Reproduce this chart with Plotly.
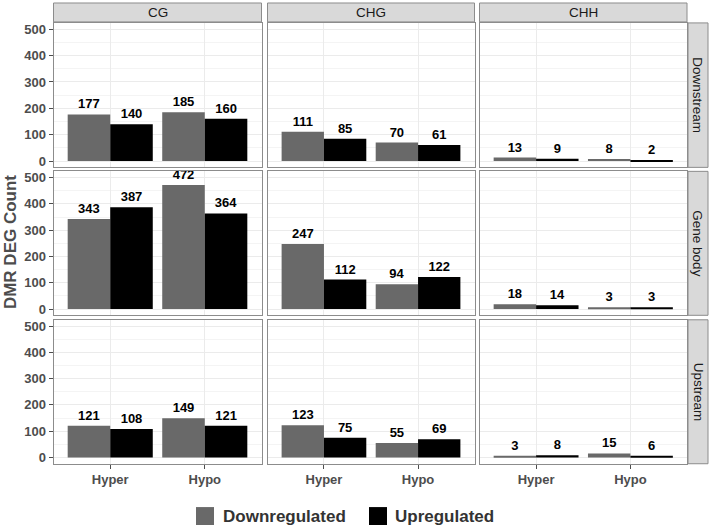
import plotly.graph_objects as go

W, H = 709, 528

contexts = ["CG", "CHG", "CHH"]
regions = ["Downstream", "Gene body", "Upstream"]
directions = ["Hyper", "Hypo"]
groups = ["Downregulated", "Upregulated"]
group_colors = ["#696969", "#000000"]

# values per region/context: [Hyper, Hypo]
down_downstream = {"CG": [177, 185], "CHG": [111, 70], "CHH": [13, 8]}
up_downstream = {"CG": [140, 160], "CHG": [85, 61], "CHH": [9, 2]}
down_genebody = {"CG": [343, 472], "CHG": [247, 94], "CHH": [18, 3]}
up_genebody = {"CG": [387, 364], "CHG": [112, 122], "CHH": [14, 3]}
down_upstream = {"CG": [121, 149], "CHG": [123, 55], "CHH": [3, 15]}
up_upstream = {"CG": [108, 121], "CHG": [75, 69], "CHH": [8, 6]}

data = {
    "Downstream": (down_downstream, up_downstream),
    "Gene body": (down_genebody, up_genebody),
    "Upstream": (down_upstream, up_upstream),
}

y_ticks = [0, 100, 200, 300, 400, 500]

# layout geometry in pixels
col_px = [(53.5, 261.5), (267.5, 474.5), (479.5, 687.0)]
row_px = [(22.0, 167.0), (171.0, 315.5), (320.0, 464.5)]
strip_top = (2.0, 21.0)
strip_right = (688.0, 708.0)


def px_x(v):
    return v / W


def px_y(v):
    return 1 - v / H


fig = go.Figure()
layout = {}
idx = 0
for r, reg in enumerate(regions):
    for c, ctx in enumerate(contexts):
        idx += 1
        xa = "x" if idx == 1 else f"x{idx}"
        ya = "y" if idx == 1 else f"y{idx}"
        downs, ups = data[reg]
        for g, (grp, vals) in enumerate(zip(groups, [downs[ctx], ups[ctx]])):
            fig.add_trace(go.Bar(
                x=directions, y=vals, name=grp,
                marker=dict(color=group_colors[g], line=dict(width=0)),
                text=vals, texttemplate="%{text}", textposition="outside",
                textfont=dict(family="Liberation Sans", size=13, color="black", weight="bold"),
                constraintext="none", cliponaxis=False,
                offsetgroup=str(g), showlegend=False,
                xaxis=xa, yaxis=ya,
            ))
        xkey = "xaxis" if idx == 1 else f"xaxis{idx}"
        ykey = "yaxis" if idx == 1 else f"yaxis{idx}"
        layout[xkey] = dict(
            domain=[px_x(col_px[c][0]), px_x(col_px[c][1])],
            anchor=ya, type="category", range=[-0.6, 1.6],
            showgrid=True, gridcolor="#EBEBEB", gridwidth=1,
            showline=True, linecolor="#8C8C8C", linewidth=1, mirror=True,
            showticklabels=(r == 2), ticks="outside" if r == 2 else "",
            ticklen=4, tickcolor="#4D4D4D",
            tickfont=dict(family="Liberation Sans", size=13, color="#4D4D4D", weight="bold"),
            zeroline=False, fixedrange=True,
        )
        layout[ykey] = dict(
            domain=[px_y(row_px[r][1]), px_y(row_px[r][0])],
            anchor=xa, range=[-24, 524],
            tickvals=y_ticks,
            showgrid=True, gridcolor="#EBEBEB", gridwidth=1,
            minor=dict(dtick=50, tick0=0, showgrid=True, gridcolor="#F4F4F4", gridwidth=0.6),
            showline=True, linecolor="#8C8C8C", linewidth=1, mirror=True,
            showticklabels=(c == 0), ticks="outside" if c == 0 else "",
            ticklen=4, tickcolor="#4D4D4D",
            tickfont=dict(family="Liberation Sans", size=13, color="#4D4D4D", weight="bold"),
            zeroline=False, fixedrange=True,
        )

shapes = []
annotations = []
# top strips
for c, ctx in enumerate(contexts):
    shapes.append(dict(type="rect", xref="paper", yref="paper",
                       x0=px_x(col_px[c][0]), x1=px_x(col_px[c][1]),
                       y0=px_y(strip_top[1]), y1=px_y(strip_top[0]),
                       fillcolor="#D9D9D9", line=dict(color="#8C8C8C", width=1), layer="below"))
    annotations.append(dict(xref="paper", yref="paper",
                            x=px_x((col_px[c][0] + col_px[c][1]) / 2),
                            y=px_y((strip_top[0] + strip_top[1]) / 2),
                            xanchor="center", yanchor="middle",
                            text=ctx, showarrow=False,
                            font=dict(family="Liberation Sans", size=13.5, color="#1A1A1A")))
# right strips
for r, reg in enumerate(regions):
    shapes.append(dict(type="rect", xref="paper", yref="paper",
                       x0=px_x(strip_right[0]), x1=px_x(strip_right[1]),
                       y0=px_y(row_px[r][1]), y1=px_y(row_px[r][0]),
                       fillcolor="#D9D9D9", line=dict(color="#8C8C8C", width=1), layer="below"))
    annotations.append(dict(xref="paper", yref="paper",
                            x=px_x((strip_right[0] + strip_right[1]) / 2),
                            y=px_y((row_px[r][0] + row_px[r][1]) / 2),
                            xanchor="center", yanchor="middle",
                            text=reg, showarrow=False, textangle=90,
                            font=dict(family="Liberation Sans", size=13.5, color="#1A1A1A")))

# y-axis title
annotations.append(dict(xref="paper", yref="paper", x=px_x(10), y=px_y(242),
                        xanchor="center", yanchor="middle",
                        text="DMR DEG Count", showarrow=False, textangle=-90,
                        font=dict(family="Liberation Sans", size=17, color="#4D4D4D", weight="bold")))

# legend (drawn keys + text)
leg_y = 517
leg_items = [(196, 221), (369, 393)]
for (sx, tx), grp, col in zip(leg_items, groups, group_colors):
    shapes.append(dict(type="rect", xref="paper", yref="paper",
                       x0=px_x(sx), x1=px_x(sx + 18), y0=px_y(leg_y + 9), y1=px_y(leg_y - 9),
                       fillcolor=col, line=dict(width=0)))
    annotations.append(dict(xref="paper", yref="paper", x=px_x(tx), y=px_y(leg_y),
                            xanchor="left", yanchor="middle", text=grp, showarrow=False,
                            font=dict(family="Liberation Sans", size=17, color="#333333", weight="bold")))

fig.update_layout(
    width=W, height=H,
    margin=dict(l=0, r=0, t=0, b=0),
    paper_bgcolor="white", plot_bgcolor="white",
    barmode="group", bargap=0.1, bargroupgap=0,
    showlegend=False,
    shapes=shapes, annotations=annotations,
    **layout,
)

fig.write_html("out.html")
